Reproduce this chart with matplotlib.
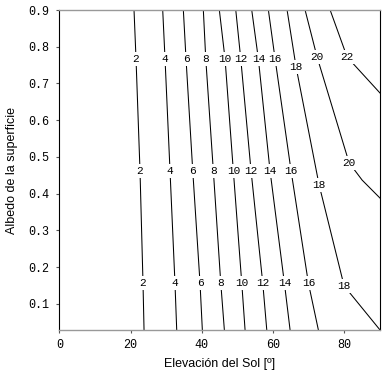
import matplotlib
matplotlib.use("Agg")
import matplotlib.pyplot as plt

# contour levels and the points (elevation [deg], albedo)
levels = [2, 4, 6, 8, 10, 12, 14, 16, 18, 20, 22]

lev_x = {
    2:  [20.97, 21.53, 22.65, 23.49, 23.78],
    4:  [29.02, 29.67, 31.07, 32.46, 32.95],
    6:  [34.81, 35.56, 37.45, 39.49, 40.14],
    8:  [40.42, 41.10, 43.23, 45.31, 46.32],
    10: [44.91, 46.51, 48.84, 51.20, 52.13],
    12: [49.52, 50.92, 53.81, 57.09, 58.22],
    14: [54.00, 55.86, 59.14, 63.16, 64.76],
    16: [58.67, 60.55, 65.04, 69.89, 72.70],
    18: [63.92, 66.44, 72.90, 79.92, 90.00],
    20: [68.97, 72.34, 81.33, 84.98, 90.00],
    22: [76.00, 80.76, 90.00],
}
lev_y = {
    2:  [0.9, 0.767, 0.462, 0.157, 0.029],
    4:  [0.9, 0.767, 0.462, 0.157, 0.029],
    6:  [0.9, 0.767, 0.462, 0.157, 0.029],
    8:  [0.9, 0.767, 0.462, 0.157, 0.029],
    10: [0.9, 0.767, 0.462, 0.157, 0.029],
    12: [0.9, 0.767, 0.462, 0.157, 0.029],
    14: [0.9, 0.767, 0.462, 0.157, 0.029],
    16: [0.9, 0.767, 0.462, 0.157, 0.029],
    18: [0.9, 0.745, 0.424, 0.149, 0.029],
    20: [0.9, 0.772, 0.484, 0.437, 0.388],
    22: [0.9, 0.772, 0.674],
}
# which points of each line carry a label
lab_idx = {
    2: [1, 2, 3], 4: [1, 2, 3], 6: [1, 2, 3], 8: [1, 2, 3],
    10: [1, 2, 3], 12: [1, 2, 3], 14: [1, 2, 3], 16: [1, 2, 3],
    18: [1, 2, 3], 20: [1, 2], 22: [1],
}

x_ticks = [0, 20, 40, 60, 80]
y_ticks = [0.1, 0.2, 0.3, 0.4, 0.5, 0.6, 0.7, 0.8, 0.9]

mono = "Liberation Mono"
sans = "Liberation Sans"

fig = plt.figure(figsize=(3.87, 3.78), dpi=100)
ax = fig.add_axes([0.1532, 0.127, 0.8288, 0.8465])

for lv in levels:
    ax.plot(lev_x[lv], lev_y[lv], color="black", lw=0.75, zorder=2)
    for i in lab_idx[lv]:
        ax.text(lev_x[lv][i], lev_y[lv][i], str(lv), fontsize=8, family=mono,
                ha="center", va="center", zorder=4,
                bbox=dict(facecolor="white", edgecolor="none", pad=1.2))

ax.set_xlim(0, 90)
ax.set_ylim(0.029, 0.9)
ax.set_xticks(x_ticks)
ax.set_yticks(y_ticks)
ax.set_xticklabels([str(v) for v in x_ticks], family=mono, fontsize=8.5)
ax.set_yticklabels(["%.1f" % v for v in y_ticks], family=mono, fontsize=8.5)
ax.tick_params(axis="x", length=2.5, width=0.8, color="#555555", pad=4)
ax.tick_params(axis="y", length=2.5, width=0.8, color="#555555", pad=5)

for side in ["top", "bottom"]:
    ax.spines[side].set_color("#999999")
    ax.spines[side].set_linewidth(1.0)
for side in ["left", "right"]:
    ax.spines[side].set_color("black")
    ax.spines[side].set_linewidth(0.8)

ax.set_xlabel("Elevación del Sol [º]", family=sans, fontsize=9, labelpad=5)
ax.set_ylabel("Albedo de la superficie", family=sans, fontsize=9, labelpad=7)

fig.savefig("out.png", dpi=100)
